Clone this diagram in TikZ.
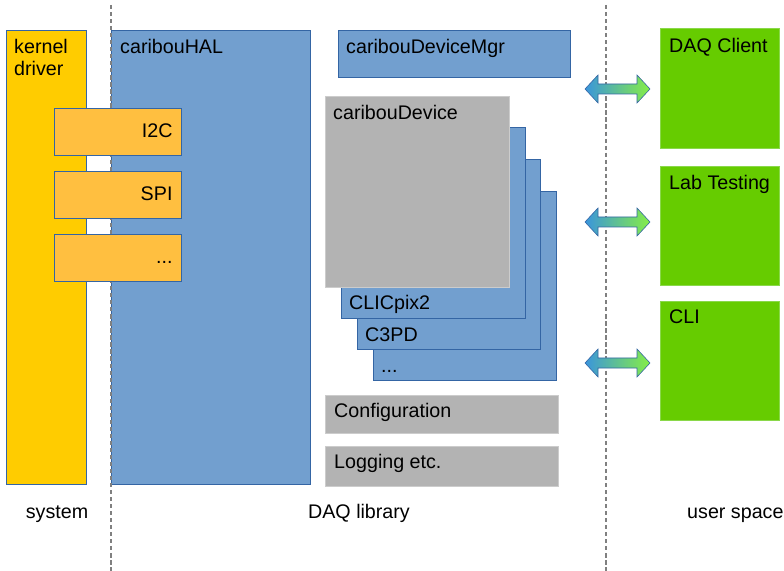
\documentclass[tikz,border=0pt]{standalone}
\usepackage{fontspec}
\setmainfont{Liberation Sans}
\usetikzlibrary{calc}
\definecolor{kyellow}{HTML}{FFCC00}
\definecolor{halblue}{HTML}{729FCF}
\definecolor{edgeblue}{HTML}{3465A4}
\definecolor{busorange}{HTML}{FFBF40}
\definecolor{devgray}{HTML}{B3B3B3}
\definecolor{edgegray}{HTML}{CCCCCC}
\definecolor{appgreen}{HTML}{66CC00}
\definecolor{edgegreen}{HTML}{8AD84A}
\definecolor{sepgray}{HTML}{808080}
\definecolor{arrblue}{HTML}{3A95DC}
\definecolor{arrgreen}{HTML}{86EE46}

\newcommand\biarrow[2]{%
  \shadedraw[left color=arrblue, right color=arrgreen, draw=edgeblue, line width=0.5pt]
    (#1) -- ++(13,-14) -- ++(0,9) -- ($(#2)+(-13,-5)$) -- ++(0,-9) -- (#2)
    -- ++(-13,14) -- ++(0,-9) -- ($(#1)+(13,5)$) -- ++(0,9) -- cycle;}

\begin{document}
\begin{tikzpicture}[x=0.03cm, y=-0.03cm, font=\fontsize{16.8}{19}\selectfont,
    blk/.style={draw=edgeblue, line width=0.6pt, anchor=north west, inner sep=0pt},
    sz/.style 2 args={minimum width=#1*0.03cm, minimum height=#2*0.03cm},
    tl/.style={inner sep=0pt, anchor=north west, align=left},
    bl/.style={inner sep=0pt, anchor=base west},
    br/.style={inner sep=0pt, anchor=base east},
    sep/.style={draw=sepgray, line width=1.9pt, dash pattern=on 3.6pt off 2.4pt}]
  \useasboundingbox (0,0) rectangle (784,571);

  \node[blk, sz={80}{454}, fill=kyellow] (kd) at (6,30) {};
  \node[blk, sz={199}{454}, fill=halblue] (hal) at (111,30) {};
  \draw[sep] (111,5) -- (111,571);
  \draw[sep] (606,5) -- (606,571);

  \node[blk, sz={127}{47}, fill=busorange] (i2c) at (54,108) {};
  \node[blk, sz={127}{47}, fill=busorange] (spi) at (54,171) {};
  \node[blk, sz={127}{47}, fill=busorange] (bus) at (54,234) {};

  \node[blk, sz={232}{47}, fill=halblue] (mgr) at (338,30) {};
  \node[blk, sz={183}{189}, fill=halblue] (more) at (373,191) {};
  \node[blk, sz={183}{190}, fill=halblue] (c3pd) at (357,159) {};
  \node[blk, sz={184}{191}, fill=halblue] (clic) at (341,127) {};
  \node[blk, sz={184}{191}, fill=devgray, draw=edgegray] (dev) at (325,96) {};
  \node[blk, sz={233}{38}, fill=devgray, draw=edgegray] (cfg) at (325,395) {};
  \node[blk, sz={233}{40}, fill=devgray, draw=edgegray] (log) at (325,446) {};

  \node[blk, sz={119}{120}, fill=appgreen, draw=edgegreen] (dc) at (660,28) {};
  \node[blk, sz={119}{119}, fill=appgreen, draw=edgegreen] (lab) at (660,166) {};
  \node[blk, sz={119}{119}, fill=appgreen, draw=edgegreen] (cli) at (660,301) {};

  \node[tl] (kdl) at ($(kd.north west)+(8,9)$) {kernel\\driver};
  \node[tl] (hall) at ($(hal.north west)+(9,9)$) {caribouHAL};
  \node[br] (i2cl) at ($(i2c.north east)+(-9,30)$) {I2C};
  \node[br] (spil) at ($(spi.north east)+(-9,30)$) {SPI};
  \node[br] (busl) at ($(bus.north east)+(-9,30)$) {...};
  \node[tl] (mgrl) at ($(mgr.north west)+(8,9)$) {caribouDeviceMgr};
  \node[tl] (devl) at ($(dev.north west)+(8,9)$) {caribouDevice};
  \node[bl] (clicl) at ($(clic.south west)+(8,-9)$) {CLICpix2};
  \node[bl] (c3pdl) at ($(c3pd.south west)+(8,-8)$) {C3PD};
  \node[bl] (morel) at ($(more.south west)+(8,-8)$) {...};
  \node[tl] (cfgl) at ($(cfg.north west)+(9,8)$) {Configuration};
  \node[tl] (logl) at ($(log.north west)+(9,8)$) {Logging etc.};
  \node[tl] (dcl) at ($(dc.north west)+(9,10)$) {DAQ Client};
  \node[tl] (labl) at ($(lab.north west)+(9,9)$) {Lab Testing};
  \node[tl] (clil) at ($(cli.north west)+(9,9)$) {CLI};

  \coordinate (p1) at (585,89);
  \coordinate (p2) at (585,222);
  \coordinate (p3) at (585,363);
  \coordinate (q1) at ($(p1 -| dc.west)+(-10,0)$);
  \coordinate (q2) at ($(p2 -| lab.west)+(-10,0)$);
  \coordinate (q3) at ($(p3 -| cli.west)+(-10,0)$);
  \biarrow{p1}{q1}
  \biarrow{p2}{q2}
  \biarrow{p3}{q3}

  \node[inner sep=0pt, anchor=base] (sys) at (57,518) {system};
  \node[inner sep=0pt, anchor=base] (daq) at (359,518) {DAQ library};
  \node[bl] (usr) at (687,518) {user space};
\end{tikzpicture}
\end{document}
